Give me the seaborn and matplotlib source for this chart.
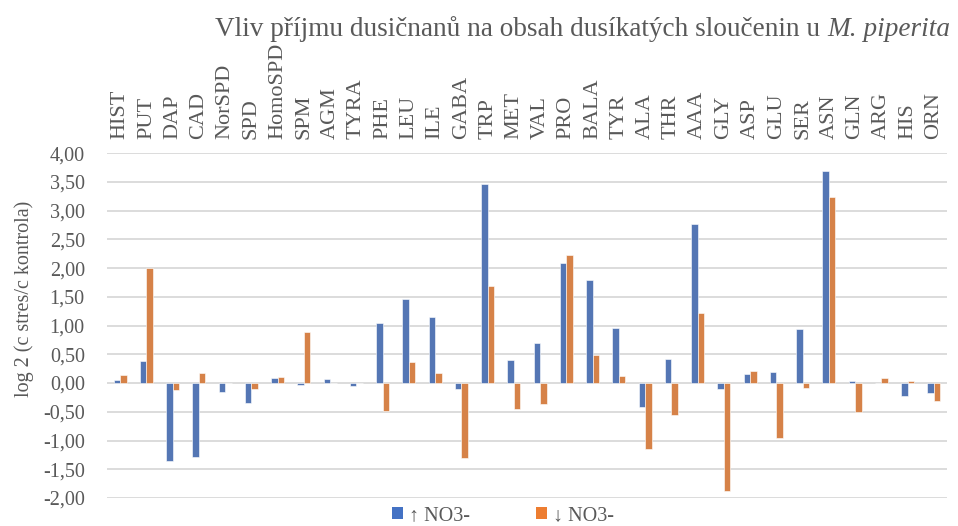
import pandas as pd
import matplotlib.pyplot as plt
from matplotlib.patches import Patch
import seaborn as sns

TITLE_FONTSIZE = 19.6
TICK_FONTSIZE = 14.5
CAT_FONTSIZE = 16
LABEL_FONTSIZE = 14.5
LEGEND_FONTSIZE = 14.5
TEXT_COLOR = '#595959'

categories = ['HIST', 'PUT', 'DAP', 'CAD', 'NorSPD', 'SPD', 'HomoSPD', 'SPM', 'AGM',
              'TYRA', 'PHE', 'LEU', 'ILE', 'GABA', 'TRP', 'MET', 'VAL', 'PRO', 'BALA',
              'TYR', 'ALA', 'THR', 'AAA', 'GLY', 'ASP', 'GLU', 'SER', 'ASN', 'GLN',
              'ARG', 'HIS', 'ORN']
up_no3 = [0.05, 0.39, -1.36, -1.29, -0.16, -0.35, 0.09, -0.04, 0.07, -0.05, 1.04,
          1.47, 1.14, -0.10, 3.47, 0.40, 0.69, 2.09, 1.80, 0.96, -0.42, 0.41, 2.77,
          -0.10, 0.16, 0.20, 0.94, 3.69, 0.04, 0.0, -0.22, -0.17]
down_no3 = [0.14, 2.00, -0.12, 0.18, 0.0, -0.10, 0.10, 0.89, 0.0, 0.0, -0.48,
            0.37, 0.17, -1.30, 1.69, -0.46, -0.37, 2.22, 0.49, 0.12, -1.14, -0.55, 1.22,
            -1.87, 0.21, -0.95, -0.09, 3.23, -0.51, 0.09, 0.04, -0.32]
series_names = ['\u2191 NO3-', '\u2193 NO3-']
colors = ['#4472C4', '#ED7D31']
yticks = [-2.0, -1.5, -1.0, -0.5, 0.0, 0.5, 1.0, 1.5, 2.0, 2.5, 3.0, 3.5, 4.0]

if __name__ == '__main__':
    sns.set_theme(style='white')
    plt.rcParams['font.family'] = ['Liberation Serif', 'DejaVu Serif']

    df = pd.DataFrame({
        'Category': categories * 2,
        'Series': [series_names[0]] * len(categories) + [series_names[1]] * len(categories),
        'Value': up_no3 + down_no3,
    })

    fig = plt.figure(figsize=(9.58, 5.26), dpi=100)
    ax = fig.add_axes([0.1117, 0.0532, 0.8768, 0.6558])

    sns.barplot(ax=ax, data=df, x='Category', y='Value', hue='Series',
                palette=colors, width=0.5, edgecolor='white', linewidth=0.4,
                legend=False, zorder=3)

    ax.set_ylim(-2.0, 4.0)
    ax.set_xlim(-0.5, len(categories) - 0.5)
    ax.set_yticks(yticks)
    ax.set_yticklabels([f'{v:.2f}'.replace('.', ',') for v in yticks],
                       fontsize=TICK_FONTSIZE, color=TEXT_COLOR)
    for y in yticks:
        ax.axhline(y, color='#d9d9d9', linewidth=1.3, zorder=1)
    ax.grid(False)
    for sp in ax.spines.values():
        sp.set_visible(False)

    ax.xaxis.tick_top()
    ax.set_xticks(range(len(categories)))
    ax.set_xticklabels(categories, rotation=90, fontsize=CAT_FONTSIZE, color=TEXT_COLOR)
    ax.tick_params(axis='x', length=0, pad=10)
    ax.tick_params(axis='y', length=0, pad=16)
    ax.set_xlabel('')
    ax.set_ylabel('')

    # y label placed in figure pixels to match the reference
    fig.text(24 / 958, 1 - 299 / 526, 'log 2 (c stres/c kontrola)', rotation=90,
             ha='center', va='center', fontsize=LABEL_FONTSIZE, color=TEXT_COLOR)

    # title: regular text followed by the italic species name, right aligned
    t1 = fig.text(0.0, 0.0, 'Vliv příjmu dusičnanů na obsah dusíkatých sloučenin u ',
                  fontsize=TITLE_FONTSIZE, color=TEXT_COLOR)
    t2 = fig.text(0.0, 0.0, 'M. piperita', fontsize=TITLE_FONTSIZE, color=TEXT_COLOR,
                  style='italic')
    fig.canvas.draw()
    r = fig.canvas.get_renderer()
    w1 = t1.get_window_extent(r).width / fig.bbox.width
    w2 = t2.get_window_extent(r).width / fig.bbox.width
    x_end = 0.992
    y_base = 0.932
    t2.set_position((x_end - w2, y_base))
    t1.set_position((x_end - w2 - w1, y_base))

    handles = [Patch(facecolor=c, edgecolor='none') for c in colors]
    fig.legend(handles, series_names, loc='lower center', bbox_to_anchor=(0.525, -0.032),
               ncol=2, frameon=False, fontsize=LEGEND_FONTSIZE, handlelength=0.55,
               handleheight=0.55, handletextpad=0.3, columnspacing=3.3,
               labelcolor=TEXT_COLOR)

    fig.savefig('out.png', dpi=100)
    plt.close(fig)
